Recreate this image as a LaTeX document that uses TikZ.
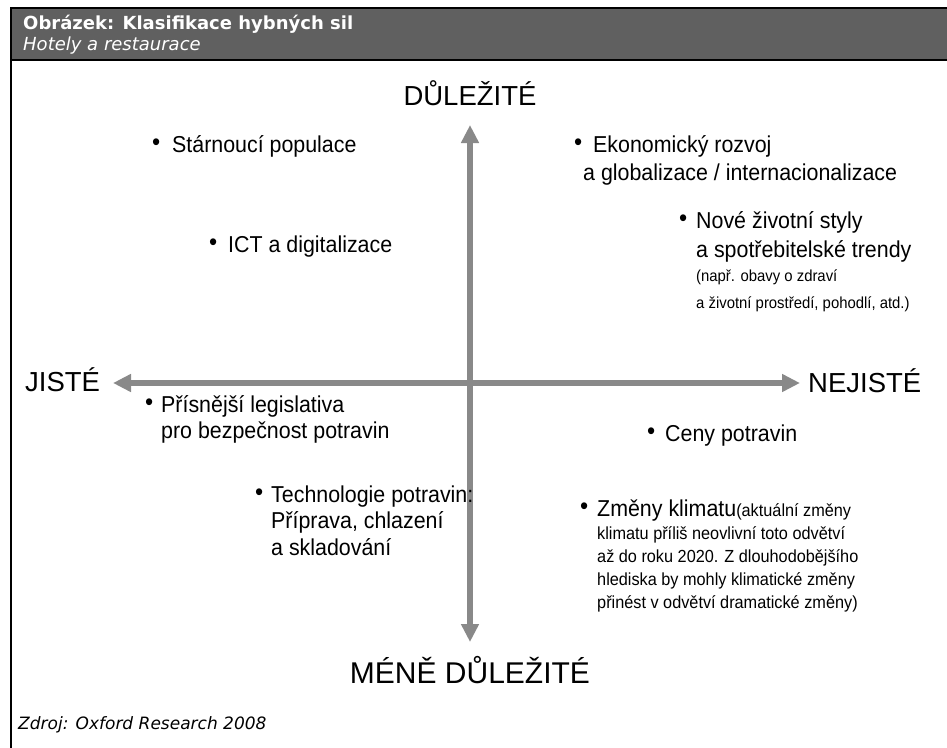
\documentclass[tikz,border=0pt]{standalone}
\usepackage{fontspec}
\setmainfont{Liberation Sans}
\newfontfamily\hdrfont{DejaVu Sans}[BoldFont={DejaVu Sans Bold},ItalicFont={DejaVu Sans Oblique}]
\newfontfamily\itf[FakeStretch=0.93]{Liberation Sans}
\usetikzlibrary{arrows.meta}
\definecolor{axisgray}{RGB}{137,137,137}
\definecolor{hdrgray}{RGB}{96,96,96}
\newcommand{\bul}[1]{\llap{\makebox[0pt]{\raisebox{2pt}{\fontsize{25}{25}\selectfont•}}\hspace{#1pt}}}
\begin{document}
\begin{tikzpicture}[x=1pt,y=-1pt,
  axisline/.style={draw=axisgray,line width=6pt,{Triangle[width=17pt,length=18pt]}-{Triangle[width=17pt,length=18pt]}},
  axlab/.style={inner sep=0pt,font=\fontsize{27.5}{30}\selectfont},
  item/.style={anchor=base west,inner sep=0pt,align=left,font=\itf\fontsize{23}{28}\selectfont},
  hdrtext/.style={anchor=base west,inner sep=0pt,text=white}]
\useasboundingbox (0,0) rectangle (947,747);
\fill[white] (0,0) rectangle (947,747);
% frame and header
\draw[line width=2pt,fill=hdrgray] (11,8) rectangle (952,60);
\draw[line width=2pt] (11,60) -- (11,750);
\node[hdrtext,font=\hdrfont\bfseries\fontsize{18}{20}\selectfont] (title) at (23,29) {Obrázek: Klasifikace hybných sil};
\node[hdrtext,font=\hdrfont\itshape\fontsize{18}{20}\selectfont] (subtitle) at (23,50) {Hotely a restaurace};
\node[anchor=base west,inner sep=0pt,font=\hdrfont\itshape\fontsize{17}{20}\selectfont] (source) at (18,729) {Zdroj: Oxford Research 2008};
% axes
\coordinate (top) at (470,125);
\coordinate (bot) at (470,642);
\coordinate (lft) at (113,383);
\coordinate (rgt) at (800,383);
\draw[axisline] (lft) -- (rgt);
\draw[axisline] (bot) -- (top);
% axis labels
\node[axlab,anchor=base] (imp) at (470,105) {DŮLEŽITÉ};
\node[axlab,anchor=base,font=\fontsize{30}{32}\selectfont] (limp) at (470,683) {MÉNĚ DŮLEŽITÉ};
\node[axlab,anchor=base west] (cert) at (25,391) {JISTÉ};
\node[axlab,anchor=base west] (unc) at (808,392) {NEJISTÉ};
% items (multi-line nodes are anchored at the baseline of their last line)
\node[item] (aging) at (172,152) {\bul{16}Stárnoucí populace};
\node[item] (ict) at (228,252) {\bul{15}ICT a digitalizace};
\node[item] (econ) at (583,180) {\hspace*{10pt}\bul{15}Ekonomický rozvoj\\a globalizace / internacionalizace};
\node[item] (life) at (696,308) {\bul{13}Nové životní styly\\[1pt]a spotřebitelské trendy\\[-4pt]{\fontsize{16}{20}\selectfont (např. obavy o zdraví}\\[-1pt]{\fontsize{16}{20}\selectfont a životní prostředí, pohodlí, atd.)}};
\node[item,font=\itf\fontsize{23}{26}\selectfont] (legis) at (161,438) {\bul{12}Přísnější legislativa\\pro bezpečnost potravin};
\node[item] (prices) at (665,441) {\bul{14}Ceny potravin};
\node[item,font=\itf\fontsize{23}{26.5}\selectfont] (tech) at (271,555) {\bul{12}Technologie potravin:\\Příprava, chlazení\\a skladování};
\node[item,font=\itf\fontsize{23}{23}\selectfont] (climate) at (597,608) {\bul{13}Změny klimatu{\fontsize{17.5}{23}\selectfont(aktuální změny}\\{\fontsize{17.5}{23}\selectfont klimatu příliš neovlivní toto odvětví}\\{\fontsize{17.5}{23}\selectfont až do roku 2020. Z dlouhodobějšího}\\{\fontsize{17.5}{23}\selectfont hlediska by mohly klimatické změny}\\{\fontsize{17.5}{23}\selectfont přinést v odvětví dramatické změny)}};
\end{tikzpicture}
\end{document}
